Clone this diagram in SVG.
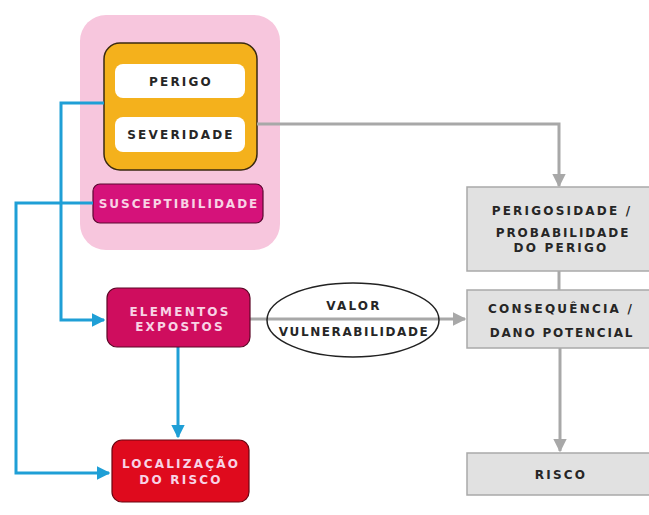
<svg xmlns="http://www.w3.org/2000/svg" width="649" height="515" viewBox="0 0 649 515">
  <style>
    text { font-family: "DejaVu Sans", "Liberation Sans", sans-serif; font-weight: bold; font-size: 12px; letter-spacing: 2.2px; text-anchor: middle; }
    .dark { fill: #262626; }
    .light { fill: #f8d3e5; }
    .gbox { fill: #e1e1e1; stroke: #a9a9a9; stroke-width: 1.5; }
    .blue { fill: none; stroke: #1f9fd6; stroke-width: 3; }
    .grey { fill: none; stroke: #a8a8a8; stroke-width: 3; }
  </style>
  <defs>
    <marker id="ab" viewBox="0 0 10 10" refX="9" refY="5" markerWidth="4.5" markerHeight="4.5" orient="auto" markerUnits="strokeWidth">
      <path d="M0,0 L10,5 L0,10 Z" fill="#1f9fd6"/>
    </marker>
    <marker id="ag" viewBox="0 0 10 10" refX="9" refY="5" markerWidth="4.5" markerHeight="4.5" orient="auto" markerUnits="strokeWidth">
      <path d="M0,0 L10,5 L0,10 Z" fill="#a8a8a8"/>
    </marker>
  </defs>

  <rect width="649" height="515" fill="#ffffff"/>

  <!-- pink hazard group -->
  <g id="grupo-perigo">
    <rect x="80" y="15" width="200" height="235" rx="26" fill="#f7c6dd"/>
    <rect x="104" y="43" width="153" height="127" rx="16" fill="#f4b11c" stroke="#3a2a10" stroke-width="1.5"/>
  </g>
  <g id="perigo">
    <rect x="115" y="64" width="130" height="34" rx="8" fill="#ffffff"/>
    <text class="dark" x="181" y="85.5">PERIGO</text>
  </g>
  <g id="severidade">
    <rect x="115" y="117" width="130" height="35" rx="8" fill="#ffffff"/>
    <text class="dark" x="181" y="138.5">SEVERIDADE</text>
  </g>
  <g id="susceptibilidade">
    <rect x="93" y="184" width="170" height="39" rx="7" fill="#d5127a" stroke="#5a0830" stroke-width="1.2"/>
    <text class="light" x="179" y="207.5" style="letter-spacing:2px">SUSCEPTIBILIDADE</text>
  </g>

  <!-- connectors -->
  <g id="conectores">
    <polyline class="blue" points="104,103 61,103 61,320 104,320" marker-end="url(#ab)"/>
    <polyline class="blue" points="93,203 16,203 16,473 109,473" marker-end="url(#ab)"/>
    <line class="blue" x1="178" y1="347" x2="178" y2="437" marker-end="url(#ab)"/>
    <polyline class="grey" points="257,124 559,124 559,186" marker-end="url(#ag)"/>
    <line class="grey" x1="250" y1="319" x2="465" y2="319" marker-end="url(#ag)"/>
    <line class="grey" x1="559" y1="271" x2="559" y2="290"/>
    <line class="grey" x1="560" y1="348" x2="560" y2="451" marker-end="url(#ag)"/>
  </g>

  <g id="elementos-expostos">
    <rect x="107" y="288" width="143" height="59" rx="10" fill="#cf0d5e" stroke="#5c0626" stroke-width="1.2"/>
    <text class="light" x="180" y="316">ELEMENTOS</text>
    <text class="light" x="180" y="331">EXPOSTOS</text>
  </g>

  <g id="localizacao">
    <rect x="112" y="440" width="137" height="62" rx="10" fill="#df0a1d" stroke="#6a0410" stroke-width="1.2"/>
    <text class="light" x="181" y="468">LOCALIZAÇÃO</text>
    <text class="light" x="181" y="484">DO RISCO</text>
  </g>

  <g id="valor-vulnerabilidade">
    <ellipse cx="353" cy="320" rx="86" ry="37" fill="none" stroke="#222222" stroke-width="1.5"/>
    <text class="dark" x="354" y="309.5">VALOR</text>
    <text class="dark" x="354" y="336" style="letter-spacing:1.6px">VULNERABILIDADE</text>
  </g>

  <g id="perigosidade">
    <rect class="gbox" x="467" y="187" width="190" height="84"/>
    <text class="dark" x="562" y="214.5">PERIGOSIDADE /</text>
    <text class="dark" x="563" y="236.5" style="letter-spacing:1.9px">PROBABILIDADE</text>
    <text class="dark" x="561" y="251.5">DO PERIGO</text>
  </g>

  <g id="consequencia">
    <rect class="gbox" x="467" y="290" width="190" height="58"/>
    <text class="dark" x="561" y="312.5">CONSEQUÊNCIA /</text>
    <text class="dark" x="562" y="336.5" style="letter-spacing:1.8px">DANO POTENCIAL</text>
  </g>

  <g id="risco">
    <rect class="gbox" x="467" y="453" width="190" height="42"/>
    <text class="dark" x="561" y="478.5">RISCO</text>
  </g>
</svg>
